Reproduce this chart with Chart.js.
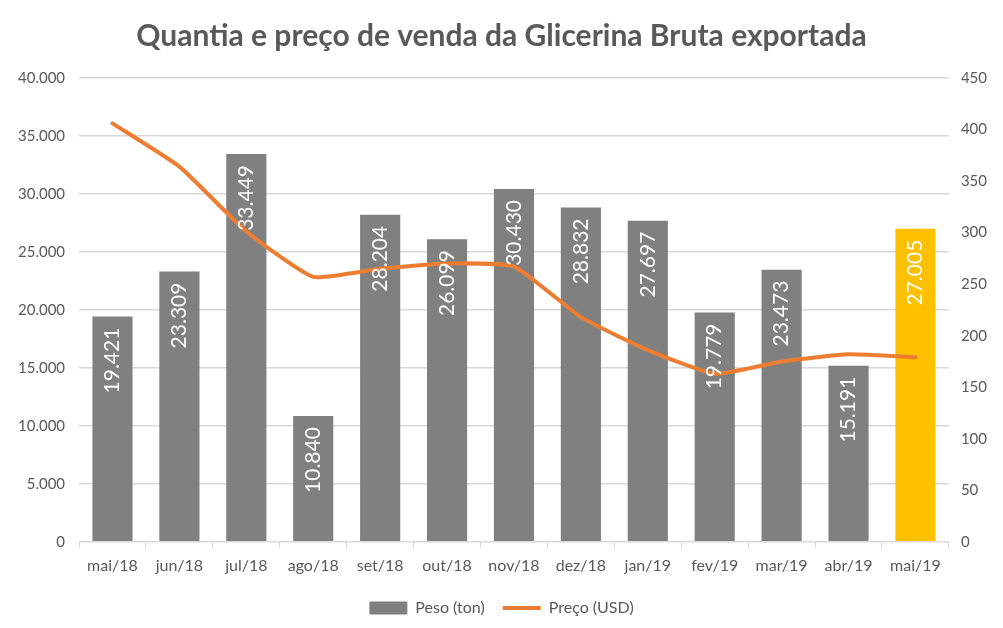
<!DOCTYPE html>
<html>
<head>
<meta charset="utf-8">
<script src="https://cdn.jsdelivr.net/npm/chart.js@4/dist/chart.umd.min.js"></script>
<style>
html,body{margin:0;padding:0;background:#fff;overflow:hidden;}
canvas{display:block;}
</style>
</head>
<body>
<canvas id="c" width="1003" height="628"></canvas>
<script>
const categories = ['mai/18','jun/18','jul/18','ago/18','set/18','out/18','nov/18','dez/18','jan/19','fev/19','mar/19','abr/19','mai/19'];
const pesoTon = [19421, 23309, 33449, 10840, 28204, 26099, 30430, 28832, 27697, 19779, 23473, 15191, 27005];
const precoUSD = [406, 364, 301, 257, 265, 270, 267, 218, 186, 163, 175, 182, 179];
const barColors = ['#808080','#808080','#808080','#808080','#808080','#808080','#808080','#808080','#808080','#808080','#808080','#808080','#FFC000'];

const fmt = v => Math.round(v).toString().replace(/\B(?=(\d{3})+(?!\d))/g, '.');

const barLabels = {
  id: 'barLabels',
  afterDatasetsDraw(chart) {
    const meta = chart.getDatasetMeta(0);
    const ctx = chart.ctx;
    ctx.save();
    ctx.fillStyle = '#ffffff';
    ctx.font = '21px Lato';
    ctx.textAlign = 'right';
    ctx.textBaseline = 'middle';
    meta.data.forEach((bar, i) => {
      ctx.save();
      ctx.translate(bar.x, bar.y + 11);
      ctx.rotate(-Math.PI / 2);
      ctx.fillText(fmt(pesoTon[i]), 0, 0);
      ctx.restore();
    });
    ctx.restore();
  }
};

new Chart(document.getElementById('c'), {
  type: 'bar',
  data: {
    labels: categories,
    datasets: [
      {
        type: 'bar',
        label: 'Peso (ton)',
        data: pesoTon,
        backgroundColor: barColors,
        yAxisID: 'y',
        order: 1,
        barPercentage: 0.6,
        categoryPercentage: 1.0
      },
      {
        type: 'line',
        label: 'Preço (USD)',
        data: precoUSD,
        borderColor: '#ED7D31',
        backgroundColor: '#ED7D31',
        borderWidth: 4,
        pointRadius: 0,
        tension: 0.15,
        yAxisID: 'y1',
        order: 0,
        borderCapStyle: 'round',
        borderJoinStyle: 'round'
      }
    ]
  },
  options: {
    responsive: false,
    animation: false,
    devicePixelRatio: 1,
    layout: { padding: { left: 4, right: 4, top: 10, bottom: 2 } },
    plugins: {
      title: {
        display: true,
        text: 'Quantia e preço de venda da Glicerina Bruta exportada',
        color: '#595959',
        font: { family: 'Lato', size: 30, weight: 'bold' },
        padding: { top: 8, bottom: 24 }
      },
      legend: {
        position: 'bottom',
        labels: {
          color: '#595959',
          font: { family: 'Lato', size: 16 },
          usePointStyle: true,
          pointStyleWidth: 38,
          boxHeight: 13,
          padding: 18,
          sort: (a, b) => a.datasetIndex - b.datasetIndex,
          generateLabels(chart) {
            const items = Chart.defaults.plugins.legend.labels.generateLabels(chart);
            items.forEach(it => {
              if (it.datasetIndex === 0) { it.pointStyle = 'rect'; it.fillStyle = '#808080'; it.strokeStyle = '#808080'; it.lineWidth = 0; }
              else { it.pointStyle = 'line'; it.strokeStyle = '#ED7D31'; it.lineWidth = 4; }
            });
            return items;
          }
        }
      },
      tooltip: { enabled: false }
    },
    scales: {
      x: {
        offset: true,
        grid: { display: true, drawOnChartArea: false, color: '#D9D9D9', tickLength: 7, offset: true },
        border: { color: '#D9D9D9' },
        ticks: { color: '#595959', font: { family: 'Lato', size: 16 }, padding: 7, maxRotation: 0 }
      },
      y: {
        position: 'left',
        min: 0, max: 40000,
        ticks: { stepSize: 5000, color: '#595959', font: { family: 'Lato', size: 15 }, padding: 14, callback: v => fmt(v) },
        grid: { color: '#D9D9D9', lineWidth: 1.5, drawTicks: false },
        border: { display: false }
      },
      y1: {
        position: 'right',
        min: 0, max: 450,
        ticks: { stepSize: 50, color: '#595959', font: { family: 'Lato', size: 15 }, padding: 12 },
        grid: { display: false, drawTicks: false },
        border: { display: false }
      }
    }
  },
  plugins: [barLabels]
});
</script>
</body>
</html>
